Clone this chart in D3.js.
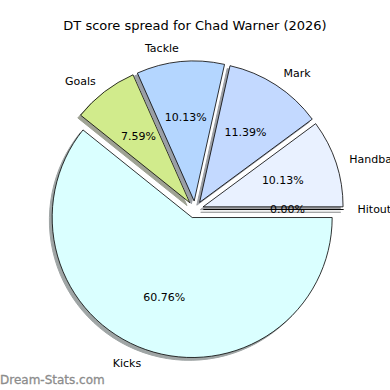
<!DOCTYPE html>
<html>
<head>
<meta charset="utf-8">
<script src="https://cdn.jsdelivr.net/npm/d3@7"></script>
<style>
  body{margin:0;background:#fff;}
  svg{display:block;font-family:"DejaVu Sans",sans-serif;}
</style>
</head>
<body>
<svg id="chart" width="390" height="390"></svg>
<script>
//-----------------------------------------------------------------------------
// DATA
var categories = ["Hitout", "Handball", "Mark", "Tackle", "Goals", "Kicks"];
var points     = [0, 8, 9, 8, 6, 48];
var colors     = ["#f0f6ff", "#e9f1ff", "#c3d9ff", "#b4d6ff", "#d1eb8c", "#daffff"];
var title      = "DT score spread for Chad Warner (2026)";
var watermark  = "Dream-Stats.com";
//-----------------------------------------------------------------------------
// LAYOUT
var cx = 195, cy = 209.5, radius = 140, explode = 8.5;
var shadowDx = -2.8, shadowDy = 2.8;

var svg = d3.select("#chart");

svg.append("text")
   .attr("x", 195).attr("y", 30)
   .attr("text-anchor", "middle")
   .attr("font-size", "13px")
   .text(title);

// matplotlib style: counterclockwise, starting at 3 o'clock
var pie = d3.pie()
  .sort(null)
  .startAngle(Math.PI/2)
  .endAngle(Math.PI/2 - 2*Math.PI)
  .value(function(d){ return d.value; });

var slices = pie(categories.map(function(c, i){
  return {name: c, value: points[i], color: colors[i]};
}));
var total = d3.sum(points);

var arc = d3.arc().innerRadius(0).outerRadius(radius);

function mid(d){ return (d.startAngle + d.endAngle)/2; }
function offset(d){
  var a = mid(d);
  return [cx + explode*Math.sin(a), cy - explode*Math.cos(a)];
}
function shade(c){
  var r = d3.rgb(c);
  return d3.rgb(r.r*0.3, r.g*0.3, r.b*0.3).toString();
}

var g = svg.append("g");

// shadows first, below every wedge
g.selectAll("path.shadow")
 .data(slices)
 .enter().append("path")
 .attr("class", "shadow")
 .attr("transform", function(d){ var o = offset(d); return "translate(" + (o[0]+shadowDx) + "," + (o[1]+shadowDy) + ")"; })
 .attr("d", arc)
 .attr("fill", function(d){ return shade(d.data.color); })
 .attr("stroke", function(d){ return shade(d.data.color); })
 .attr("stroke-width", 1)
 .attr("opacity", 0.5);

g.selectAll("path.wedge")
 .data(slices)
 .enter().append("path")
 .attr("class", "wedge")
 .attr("transform", function(d){ var o = offset(d); return "translate(" + o[0] + "," + o[1] + ")"; })
 .attr("d", arc)
 .attr("fill", function(d){ return d.data.color; })
 .attr("stroke", "#000")
 .attr("stroke-width", 0.8)
 .attr("stroke-linejoin", "miter");

// category labels at 1.1 r
g.selectAll("text.label")
 .data(slices)
 .enter().append("text")
 .attr("class", "label")
 .attr("x", function(d){ return offset(d)[0] + 1.1*radius*Math.sin(mid(d)); })
 .attr("y", function(d){ return offset(d)[1] - 1.1*radius*Math.cos(mid(d)); })
 .attr("dy", "0.35em")
 .attr("text-anchor", function(d){ return Math.sin(mid(d)) > 0 ? "start" : "end"; })
 .attr("font-size", "11px")
 .text(function(d){ return d.data.name; });

// percentages at 0.6 r
g.selectAll("text.pct")
 .data(slices)
 .enter().append("text")
 .attr("class", "pct")
 .attr("x", function(d){ return offset(d)[0] + 0.6*radius*Math.sin(mid(d)); })
 .attr("y", function(d){ return offset(d)[1] - 0.6*radius*Math.cos(mid(d)); })
 .attr("dy", "0.35em")
 .attr("text-anchor", "middle")
 .attr("font-size", "11px")
 .text(function(d){ return d3.format(".2f")(d.data.value/total*100) + "%"; });

svg.append("text")
   .attr("x", 0).attr("y", 384)
   .attr("font-size", "12px")
   .attr("fill", "#8c8c8c")
   .attr("stroke", "#8c8c8c")
   .attr("stroke-width", 0.3)
   .text(watermark);
</script>
</body>
</html>
